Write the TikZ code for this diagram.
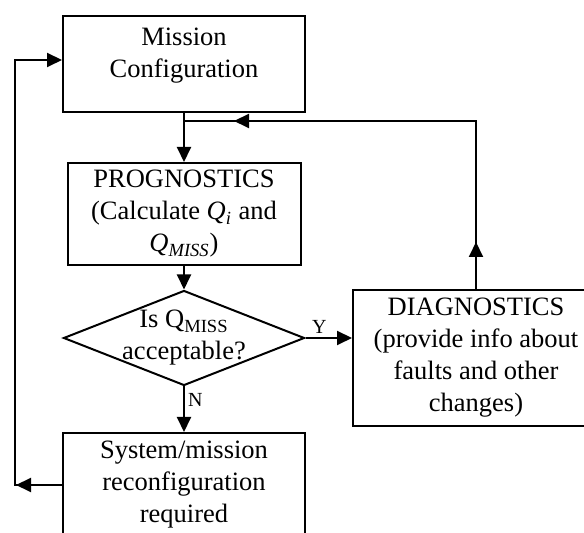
\documentclass[tikz,border=0pt]{standalone}
\usepackage{fontspec}
\setmainfont{Liberation Serif}
\usetikzlibrary{arrows.meta,shapes.geometric,decorations.markings}

\begin{document}
\begin{tikzpicture}[x=0.5pt, y=-0.5pt, line width=1pt, >={Triangle[length=7.5pt,width=7pt]},
    block/.style={rectangle, draw, align=center, font=\fontsize{13.25pt}{16pt}\selectfont},
    decision/.style={diamond, draw, aspect=2.5, inner sep=-5pt, align=center, font=\fontsize{13.25pt}{16pt}\selectfont},
    txt/.style={align=center, inner sep=0pt, font=\fontsize{13.25pt}{16pt}\selectfont},
    lbl/.style={inner sep=1.5pt, font=\fontsize{10pt}{12pt}\selectfont},
    midtip/.style={postaction={decorate, decoration={markings, mark=at position #1 with {\arrow{Triangle[length=7.5pt,width=7pt]}}}}}]

    \clip (0,0) rectangle (584,533);

    \node[block, minimum width=121pt, minimum height=48pt] (mission) at (184,64) {};
    \node[txt, anchor=north] (missiontext) at ([yshift=-6pt]mission.north) {Mission\\Configuration};
    \node[block, below of=mission, node distance=75pt, minimum width=116.5pt, minimum height=51pt] (prog)
        {PROGNOSTICS\\(Calculate \textit{Q}\textsubscript{\textit{i}} and\\\textit{Q}\textsubscript{\textit{MISS}})};
    \node[decision, below of=prog, node distance=62pt, minimum width=120.5pt, minimum height=47.5pt] (dec)
        {Is Q\textsubscript{MISS}\\acceptable?};
    \node[block, right of=dec, node distance=146pt, yshift=-10pt, minimum width=123pt, minimum height=68pt] (diag)
        {DIAGNOSTICS\\(provide info about\\faults and other\\changes)};
    \node[block, below of=dec, node distance=73.5pt, minimum width=121pt, minimum height=52pt] (reconf)
        {System/mission\\reconfiguration\\required};
    \node[coordinate, below of=mission, node distance=28.5pt] (join) {};
    \node[coordinate, left of=reconf, node distance=84.5pt] (fbx) {};

    \draw[->] (mission) -- (prog);
    \draw[->] (prog) -- (dec);
    \draw[->] (dec.east) -- node[lbl, above, pos=0.3] {Y} (dec.east -| diag.west);
    \draw[->] (dec) -- node[lbl, right, pos=0.3] {N} (reconf);
    \draw[midtip=23.5pt, midtip=205pt] (diag.north) |- (join);
    \draw[->, midtip=23pt] (reconf.west) -- (fbx) |- ([yshift=2pt]mission.west);

\end{tikzpicture}
\end{document}
